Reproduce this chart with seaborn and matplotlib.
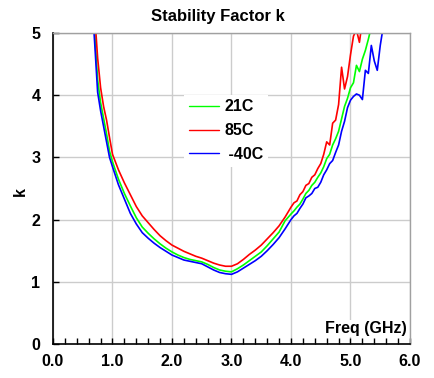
import matplotlib
matplotlib.use('Agg')
import matplotlib.pyplot as plt
import seaborn as sns
import pandas as pd
from matplotlib.ticker import MultipleLocator, FormatStrFormatter

# ---------------- data ----------------
freq = [0.65, 0.70, 0.75, 0.80, 0.85, 0.90, 0.95, 1.00,
        1.1, 1.2, 1.3, 1.4, 1.5, 1.6, 1.7, 1.8, 1.9, 2.0,
        2.1, 2.2, 2.3, 2.4, 2.5, 2.6, 2.7, 2.8, 2.9, 3.0,
        3.1, 3.2, 3.3, 3.4, 3.5, 3.6, 3.7, 3.8, 3.9, 4.0,
        4.05, 4.10, 4.15, 4.20, 4.25, 4.30, 4.35, 4.40, 4.45, 4.50,
        4.55, 4.60, 4.65, 4.70, 4.75, 4.80, 4.85, 4.90, 4.95, 5.00,
        5.05, 5.10, 5.15, 5.20, 5.25, 5.30, 5.35, 5.40, 5.45, 5.50,
        5.55, 5.60]

k_21C = [5.70, 5.00, 4.25, 3.88, 3.63, 3.38, 3.10, 2.93,
         2.65, 2.42, 2.22, 2.03, 1.88, 1.78, 1.69, 1.61, 1.54, 1.48,
         1.43, 1.39, 1.36, 1.34, 1.32, 1.28, 1.23, 1.19, 1.17, 1.16,
         1.21, 1.27, 1.34, 1.41, 1.48, 1.58, 1.69, 1.80, 1.98, 2.09,
         2.14, 2.20, 2.25, 2.33, 2.42, 2.47, 2.55, 2.60, 2.68, 2.75,
         2.85, 2.98, 3.05, 3.20, 3.30, 3.42, 3.62, 3.82, 3.95, 4.12,
         4.20, 4.48, 4.38, 4.58, 4.72, 4.90, 5.10, 5.30, 5.50, 5.70,
         5.90, 6.10]

k_85C = [5.80, 5.30, 4.60, 4.12, 3.82, 3.60, 3.32, 3.05,
         2.80, 2.59, 2.40, 2.21, 2.06, 1.95, 1.84, 1.74, 1.66, 1.59,
         1.54, 1.49, 1.45, 1.41, 1.38, 1.34, 1.30, 1.27, 1.25, 1.25,
         1.29, 1.36, 1.44, 1.51, 1.59, 1.69, 1.79, 1.90, 2.04, 2.20,
         2.27, 2.30, 2.40, 2.45, 2.55, 2.58, 2.68, 2.72, 2.82, 2.90,
         3.05, 3.25, 3.20, 3.55, 3.60, 3.85, 4.45, 4.10, 4.30, 4.65,
         4.95, 5.05, 4.85, 5.20, 5.50, 5.80, 6.10, 6.40, 6.70, 7.00,
         7.30, 7.60]

k_m40C = [5.60, 4.85, 4.05, 3.75, 3.50, 3.25, 3.00, 2.85,
          2.56, 2.33, 2.10, 1.93, 1.79, 1.70, 1.62, 1.55, 1.49, 1.43,
          1.39, 1.35, 1.33, 1.31, 1.29, 1.24, 1.19, 1.15, 1.13, 1.12,
          1.16, 1.22, 1.28, 1.34, 1.41, 1.50, 1.60, 1.71, 1.85, 2.00,
          2.06, 2.10, 2.18, 2.25, 2.35, 2.38, 2.42, 2.50, 2.52, 2.60,
          2.72, 2.80, 2.90, 2.95, 3.08, 3.20, 3.42, 3.58, 3.80, 3.92,
          3.98, 4.02, 4.00, 3.93, 4.40, 4.35, 4.80, 4.55, 4.40, 4.80,
          5.10, 5.40]

series_labels = ['21C', '85C', ' -40C']
series_colors = ['#00ff00', '#ff0000', '#0000ff']
x_ticks = [0, 1, 2, 3, 4, 5, 6]
y_ticks = [0, 1, 2, 3, 4, 5]

# ---------------- figure ----------------
sns.set_theme(style='white')
plt.rcParams['font.family'] = ['Liberation Sans', 'DejaVu Sans']
plt.rcParams['font.weight'] = 'bold'
plt.rcParams['text.color'] = 'black'
plt.rcParams['axes.labelcolor'] = 'black'
plt.rcParams['xtick.color'] = 'black'
plt.rcParams['ytick.color'] = 'black'

df = pd.concat([
    pd.DataFrame({'Freq': freq, 'k': vals, 'Temp': lab})
    for lab, vals in zip(series_labels, [k_21C, k_85C, k_m40C])
], ignore_index=True)

fig = plt.figure(figsize=(4.35, 3.78), dpi=100)
ax = fig.add_axes([53/435, 1 - 344/378, 357/435, 311/378])

sns.lineplot(data=df, x='Freq', y='k', hue='Temp', hue_order=series_labels,
             palette=series_colors, linewidth=1.2, estimator=None, sort=False,
             ax=ax)

ax.set_xlim(0, 6)
ax.set_ylim(0, 5)
ax.set_xticks(x_ticks)
ax.set_yticks(y_ticks)
ax.xaxis.set_minor_locator(MultipleLocator(0.2))
ax.xaxis.set_major_formatter(FormatStrFormatter('%.1f'))

ax.grid(True, which='major', color='#cccccc', linewidth=1)
ax.set_axisbelow(True)

ax.tick_params(axis='x', which='both', direction='in', length=4, width=1,
               color='black', labelcolor='black', bottom=True,
               labelsize=11.5, pad=7)
ax.tick_params(axis='y', which='major', direction='in', length=4, width=1,
               color='black', labelcolor='black', left=True,
               labelsize=11.5, pad=9)

for s in ['left', 'bottom']:
    ax.spines[s].set_color('black')
    ax.spines[s].set_linewidth(1.2)
for s in ['top', 'right']:
    ax.spines[s].set_color('#a0a0a0')
    ax.spines[s].set_linewidth(1.0)

ax.set_xlabel('')
ax.set_ylabel('k', fontsize=11.5, fontweight='bold', color='black')
ax.yaxis.set_label_coords(-0.07, 0.49)

ax.text(0.99, 0.05, 'Freq (GHz)', transform=ax.transAxes, ha='right',
        va='center', fontsize=11.5, fontweight='bold', color='black',
        bbox=dict(facecolor='white', edgecolor='none', pad=1))

fig.text(0.5, 1 - 17/378, 'Stability Factor k', ha='center', va='center',
         fontsize=12, fontweight='bold', color='black')

handles, labels = ax.get_legend_handles_labels()
for h in handles:
    h.set_linewidth(1.0)
leg = ax.legend(handles, labels, loc='center', bbox_to_anchor=(0.485, 0.686),
                frameon=True, facecolor='white', edgecolor='none', framealpha=1,
                fancybox=False, prop={'weight': 'bold', 'size': 11.5},
                handlelength=1.9, handletextpad=0.3, labelspacing=0.55,
                borderpad=0.3)
for t in leg.get_texts():
    t.set_color('black')

fig.savefig('out.png', dpi=100)
